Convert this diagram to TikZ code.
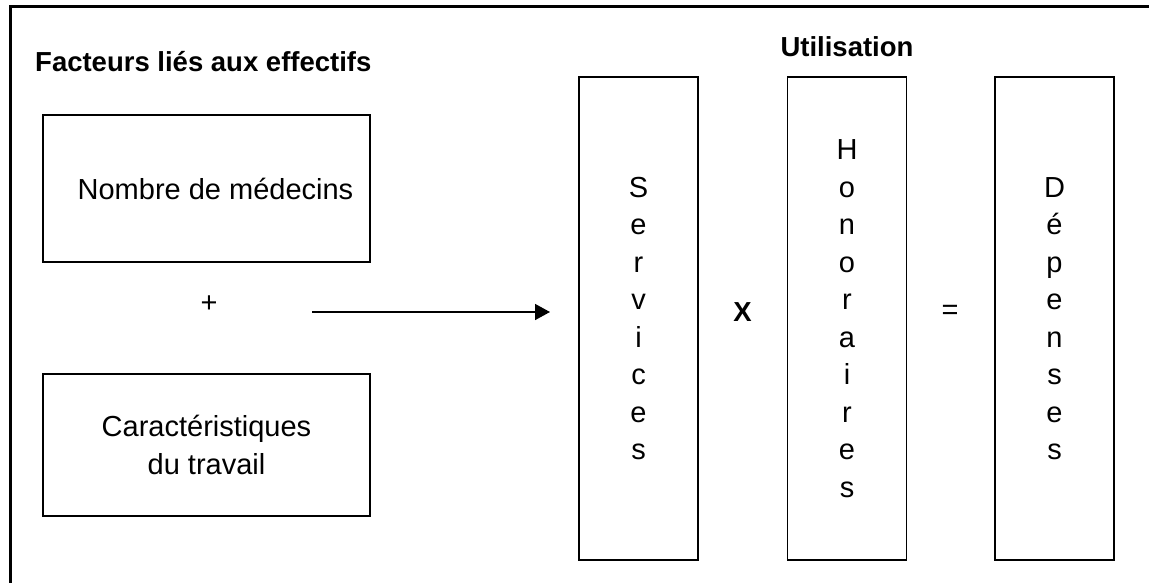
\documentclass[tikz,border=0pt]{standalone}
\usepackage{fontspec}
\setmainfont{Liberation Sans}
\usetikzlibrary{arrows.meta}

\begin{document}
\begin{tikzpicture}[x=1pt,y=-1pt]
\tikzstyle{every node}+=[inner sep=0pt, font=\fontsize{29}{37.5}\selectfont]
\tikzstyle{titre}=[font=\fontsize{27.5}{33}\selectfont\bfseries]
\tikzstyle{cadre}=[draw=black, line width=1.6pt, align=center]
\tikzstyle{colonne}=[cadre, minimum width=119pt, minimum height=483pt]
\useasboundingbox (0,0) rectangle (1149,583);
\draw [black, line width=3pt] (10,583) -- (10,7) -- (1149,7);
\node [titre, anchor=west] (facteurs) at (35,62) {Facteurs liés aux effectifs};
\node [cadre, minimum width=327pt, minimum height=147pt] (nombre) at (206.5,188.5) {\hspace*{18pt}Nombre de médecins};
\node (plus) at (209,304) {+};
\node [cadre, minimum width=327pt, minimum height=142pt] (carac) at (206.5,445) {Caractéristiques\\du travail};
\coordinate (debut) at (312,312);
\coordinate (fin) at (550,312);
\draw [line width=1.6pt, -{Triangle[length=15pt,width=16pt]}] (debut) -- (fin);
\node [titre] (utilisation) at (847,47) {Utilisation};
\node [colonne] (services) at (638.5,318.5) {S\\e\\r\\v\\i\\c\\e\\s};
\node [titre] (fois) at (742.5,312) {X};
\node [colonne] (honoraires) at (847,318.5) {H\\o\\n\\o\\r\\a\\i\\r\\e\\s};
\node (egal) at (950,312) {=};
\node [colonne] (depenses) at (1054.5,318.5) {D\\é\\p\\e\\n\\s\\e\\s};
\end{tikzpicture}
\end{document}
